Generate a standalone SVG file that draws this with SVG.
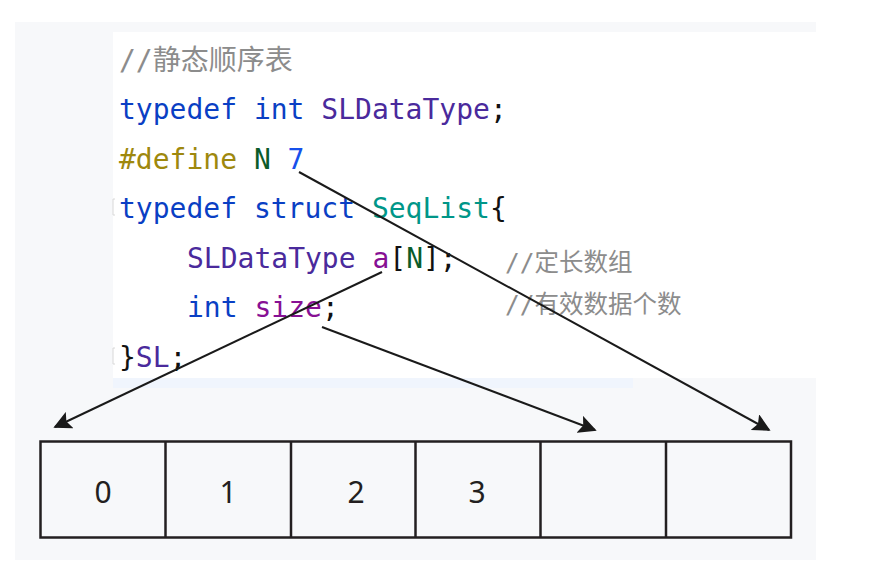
<svg xmlns="http://www.w3.org/2000/svg" width="876" height="561" viewBox="0 0 876 561">
<defs>
<style>
.code{font-family:"DejaVu Sans Mono","Noto Sans CJK SC",monospace;font-size:28px;white-space:pre}
.cmt{fill:#8c8c8c}
.cmt2{font-family:"DejaVu Sans Mono","Noto Sans CJK SC",monospace;font-size:24.5px;fill:#8c8c8c;white-space:pre}
.kw{fill:#0a3fc4}
.ty{fill:#4a2a9c}
.mac{fill:#9e880d}
.nm{fill:#0b5b2a}
.num{fill:#1750eb}
.st{fill:#009688}
.fld{fill:#871094}
.pn{fill:#111111}
.cell{fill:none;stroke:#231f20;stroke-width:2.5}
.lbl{font-family:"Noto Sans","Open Sans",sans-serif;font-size:30px;fill:#231f20;text-anchor:middle}
.conn{stroke:#1a1a1a;stroke-width:2;fill:none;marker-end:url(#ah)}
</style>
<marker id="ah" viewBox="0 0 10 10" refX="9" refY="5" markerWidth="9" markerHeight="9" markerUnits="strokeWidth" orient="auto">
<path d="M0,0 L10,5 L0,10 L2,5 z" fill="#1a1a1a"/>
</marker>
</defs>
<rect x="0" y="0" width="876" height="561" fill="#ffffff"/>
<rect x="15" y="22" width="801" height="538" fill="#f7f8fa"/>
<rect x="113" y="32" width="703" height="346" fill="#ffffff"/>
<rect x="113" y="378" width="520" height="10" fill="#f0f5fd"/>

<g id="code">
<text class="code cmt" x="119" y="70">//静态顺序表</text>
<text class="code" x="119" y="119"><tspan class="kw">typedef</tspan> <tspan class="kw">int</tspan> <tspan class="ty">SLDataType</tspan><tspan class="pn">;</tspan></text>
<text class="code" x="119" y="168.5"><tspan class="mac">#define</tspan> <tspan class="nm">N</tspan> <tspan class="num">7</tspan></text>
<text class="code" x="119" y="218"><tspan class="kw">typedef</tspan> <tspan class="kw">struct</tspan> <tspan class="st">SeqList</tspan><tspan class="pn">{</tspan></text>
<text class="code" x="187" y="267.5"><tspan class="ty">SLDataType</tspan> <tspan class="fld">a</tspan><tspan class="pn">[</tspan><tspan class="nm">N</tspan><tspan class="pn">];</tspan></text>
<text class="code" x="187" y="317"><tspan class="kw">int</tspan> <tspan class="fld">size</tspan><tspan class="pn">;</tspan></text>
<text class="code" x="119" y="366.5"><tspan class="pn">}</tspan><tspan class="ty">SL</tspan><tspan class="pn">;</tspan></text>
<text class="cmt2" x="505" y="271">//定长数组</text>
<text class="cmt2" x="505" y="313">//有效数据个数</text>
<path d="M115,199 h-2 v16 h2 M115,348 h-2 v16 h2" stroke="#d8d8d8" stroke-width="1" fill="none"/>
</g>

<g id="array">
<rect class="cell" x="40.5" y="441.5" width="750.5" height="96"/>
<line class="cell" x1="165.5" y1="441.5" x2="165.5" y2="537.5"/>
<line class="cell" x1="291" y1="441.5" x2="291" y2="537.5"/>
<line class="cell" x1="415.5" y1="441.5" x2="415.5" y2="537.5"/>
<line class="cell" x1="540.5" y1="441.5" x2="540.5" y2="537.5"/>
<line class="cell" x1="666" y1="441.5" x2="666" y2="537.5"/>
</g>
<g id="cell0"><text class="lbl" x="103" y="503">0</text></g>
<g id="cell1"><text class="lbl" x="228" y="503">1</text></g>
<g id="cell2"><text class="lbl" x="356" y="503">2</text></g>
<g id="cell3"><text class="lbl" x="477" y="503">3</text></g>

<g id="connectors">
<line class="conn" x1="299" y1="172" x2="769" y2="430"/>
<line class="conn" x1="382" y1="272" x2="55" y2="427"/>
<line class="conn" x1="322" y1="327" x2="595" y2="430"/>
</g>
</svg>
